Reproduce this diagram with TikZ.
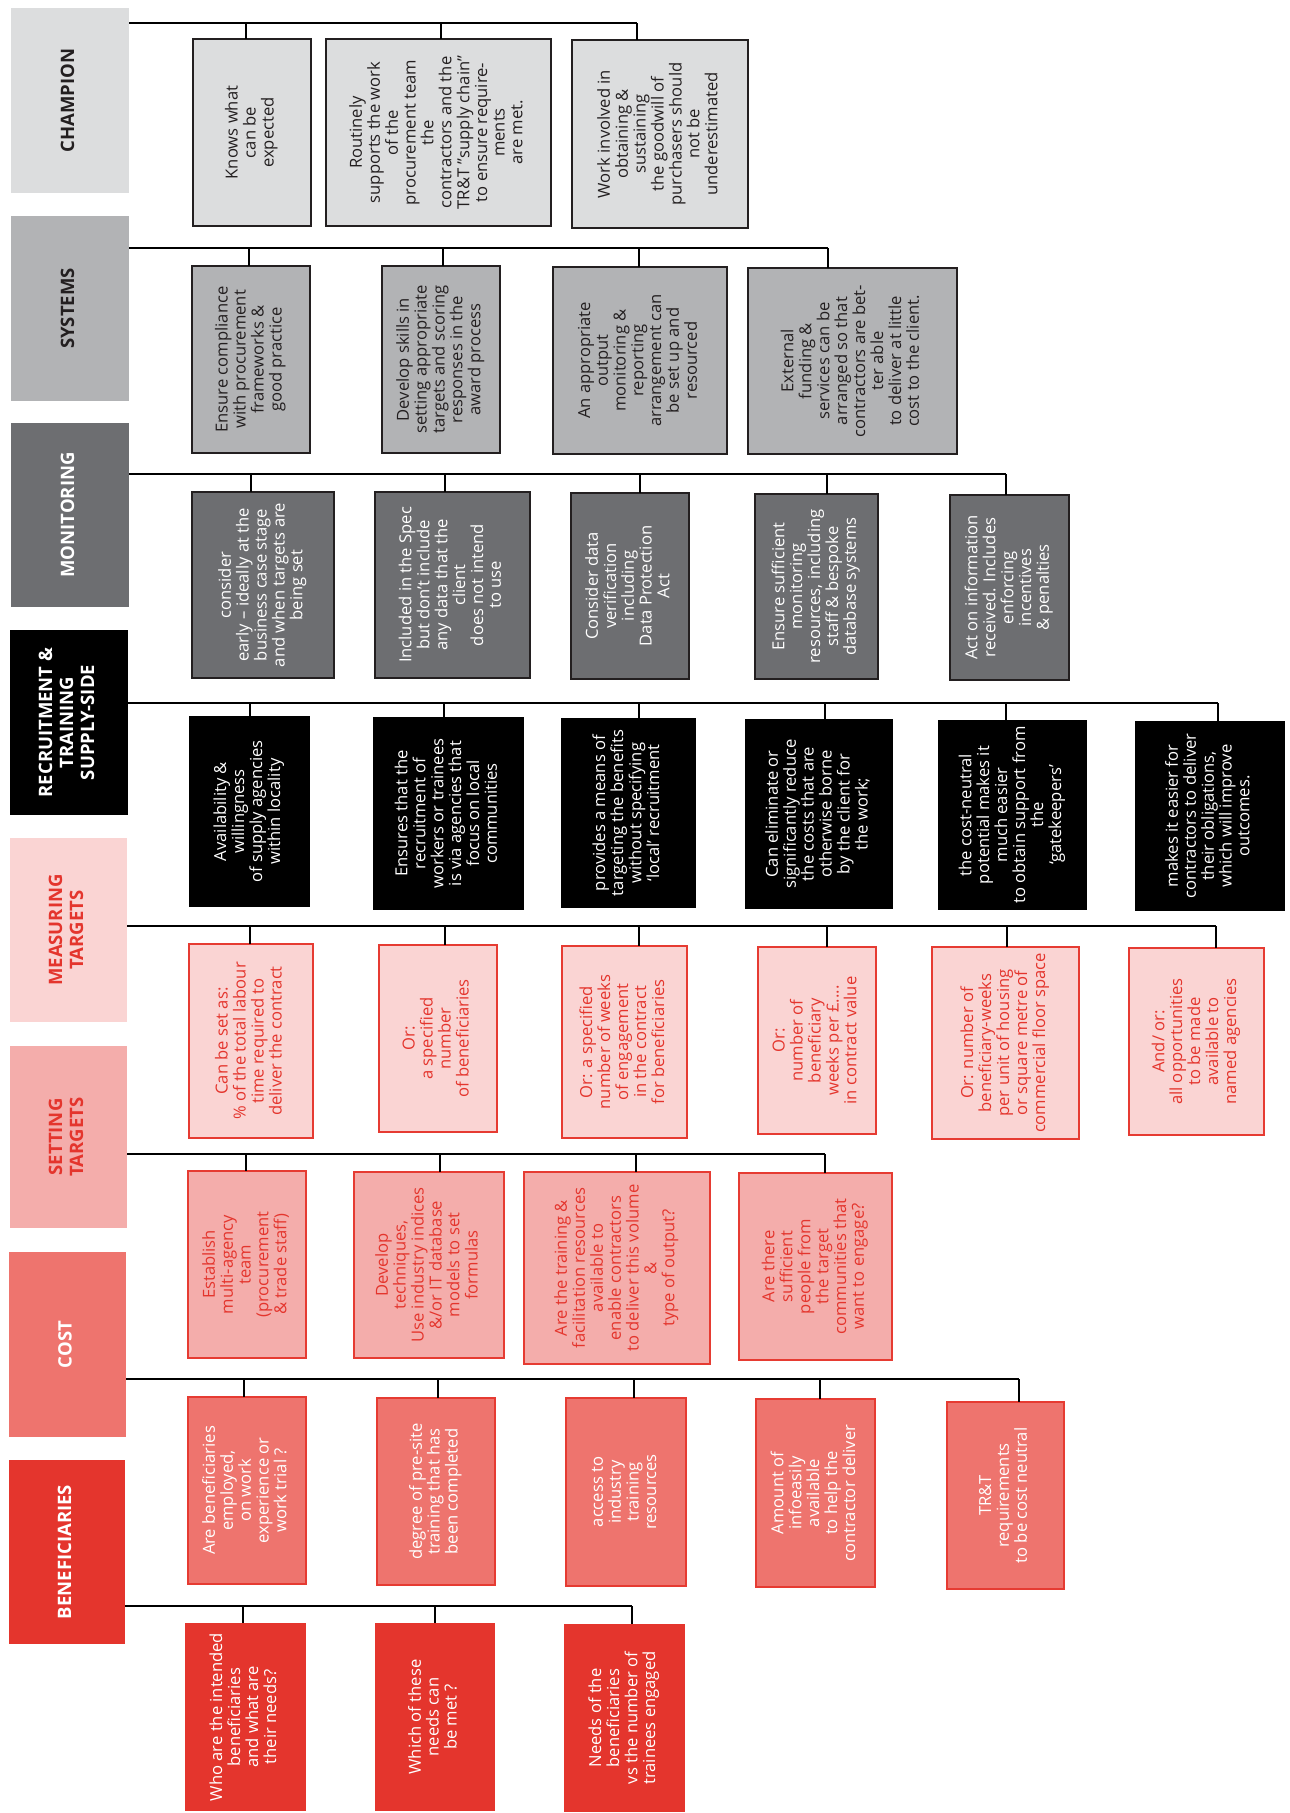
\documentclass[tikz,border=0pt]{standalone}
\usepackage{fontspec}
\setmainfont{Open Sans}
\usepackage{graphicx}
\definecolor{dk}{HTML}{231F20}
\definecolor{gA}{HTML}{DCDDDE}
\definecolor{gB}{HTML}{B2B3B5}
\definecolor{gC}{HTML}{6D6E71}
\definecolor{pA}{HTML}{FAD4D3}
\definecolor{pB}{HTML}{F4ADAB}
\definecolor{pC}{HTML}{EE746E}
\definecolor{rd}{HTML}{E4352D}
\definecolor{rl}{HTML}{E63B32}
\newcommand\bodyfont{\fontsize{16.6}{17.7}\selectfont}
\newcommand\hdrfont{\fontsize{18.5}{21}\selectfont\bfseries}
\newcommand\vtx[1]{\rotatebox{90}{\begin{tabular}{@{}c@{}}#1\end{tabular}}}
\newcommand\bx[7]{\node[#6, minimum width={#3-#2}, minimum height={#5-#4}] (#1) at ({(#2+#3)/2},{(#4+#5)/2}) {\vtx{#7}};}
\begin{document}
\begin{tikzpicture}[x=1pt,y=-1pt,
  base/.style={inner sep=0pt, outer sep=0pt, line width=2pt, font=\bodyfont},
  hdr/.style={inner sep=0pt, outer sep=0pt, font=\hdrfont},
  chbox/.style={base, draw=dk, fill=gA, text=dk},
  sybox/.style={base, draw=dk, fill=gB, text=dk},
  mobox/.style={base, draw=dk, fill=gC, text=white},
  rebox/.style={base, draw=black, fill=black, text=white},
  mebox/.style={base, draw=rl, fill=pA, text=rd},
  sebox/.style={base, draw=rl, fill=pB, text=rd},
  cobox/.style={base, draw=rl, fill=pC, text=white},
  bebox/.style={base, fill=rd, text=white},
  bar/.style={draw=black, line width=2.4pt},
  drop/.style={draw=black, line width=1.8pt}]
\useasboundingbox[fill=white] (0,0) rectangle (1290,1813);

% headers
\bx{h1}{11}{129}{8}{193}{hdr, fill=gA, text=dk}{CHAMPION}
\bx{h2}{11}{129}{216}{401}{hdr, fill=gB, text=dk}{SYSTEMS}
\bx{h3}{11}{129}{423}{607}{hdr, fill=gC, text=white}{MONITORING}
\bx{h4}{10}{128}{630}{815}{hdr, fill=black, text=white}{RECRUITMENT \&\\TRAINING\\SUPPLY-SIDE}
\bx{h5}{10}{127}{838}{1022}{hdr, fill=pA, text=rd}{MEASURING\\TARGETS}
\bx{h6}{10}{127}{1046}{1228}{hdr, fill=pB, text=rd}{SETTING\\TARGETS}
\bx{h7}{9}{126}{1252}{1437}{hdr, fill=pC, text=white}{COST}
\bx{h8}{9}{125}{1460}{1644}{hdr, fill=rd, text=white}{BENEFICIARIES}

% row 1 champion
\bx{b11}{193}{311}{39}{226}{chbox}{Knows what\\can be\\expected}
\bx{b12}{326}{551}{39}{226}{chbox}{Routinely\\supports the work\\of the\\procurement team\\the\\contractors and the\\TR\&T "supply chain"\\to ensure require-\\ments\\are met.}
\bx{b13}{572}{748}{40}{228}{chbox}{Work involved in\\obtaining \&\\sustaining\\the goodwill of\\purchasers should\\not be\\underestimated}
\coordinate (j11) at (246,23);
\coordinate (j12) at (441,23);
\coordinate (j13) at (637,23);
\draw[bar] (h1.east |- j11) -- (j13);
\foreach \b/\j in {b11/j11,b12/j12,b13/j13} \draw[drop] (\j) -- (\j |- \b.north);

% row 2 systems
\bx{b21}{192}{310}{266}{453}{sybox}{Ensure compliance\\with procurement\\frameworks \&\\good practice}
\bx{b22}{382}{500}{266}{453}{sybox}{Develop skills in\\setting appropriate\\targets and scoring\\responses in the\\award process}
\bx{b23}{553}{727}{267}{454}{sybox}{An appropriate\\output\\monitoring \&\\reporting\\arrangement can\\be set up and\\resourced}
\bx{b24}{748}{957}{268}{454}{sybox}{External\\funding \&\\services can be\\arranged so that\\contractors are bet-\\ter able\\to deliver at little\\cost to the client.}
\coordinate (j21) at (249,248);
\coordinate (j22) at (443,248);
\coordinate (j23) at (639,248);
\coordinate (j24) at (828,248);
\draw[bar] (h2.east |- j21) -- (j24);
\foreach \b/\j in {b21/j21,b22/j22,b23/j23,b24/j24} \draw[drop] (\j) -- (\j |- \b.north);

% row 3 monitoring
\bx{b31}{192}{334}{492}{678}{mobox}{consider\\early -- ideally at the\\business case stage\\and when targets are\\being set}
\bx{b32}{375}{530}{492}{678}{mobox}{Included in the Spec\\but don’t include\\any data that the\\client\\does not intend\\to use}
\bx{b33}{571}{689}{493}{679}{mobox}{Consider data\\verification\\including\\Data Protection\\Act}
\bx{b34}{755}{878}{494}{679}{mobox}{Ensure sufficient\\monitoring\\resources, including\\staff \& bespoke\\database systems}
\bx{b35}{950}{1069}{495}{680}{mobox}{Act on information\\received. Includes\\enforcing\\incentives\\\& penalties}
\coordinate (j31) at (251,474);
\coordinate (j32) at (445,474);
\coordinate (j33) at (640,474);
\coordinate (j34) at (827,474);
\coordinate (j35) at (1006,474);
\draw[bar] (h3.east |- j31) -- (j35);
\foreach \b/\j in {b31/j31,b32/j32,b33/j33,b34/j34,b35/j35} \draw[drop] (\j) -- (\j |- \b.north);

% row 4 recruitment
\bx{b41}{190}{309}{717}{906}{rebox}{Availability \&\\willingness\\of supply agencies\\within locality}
\bx{b42}{374}{523}{718}{909}{rebox}{Ensures that the\\recruitment of\\workers or trainees\\is via agencies that\\focus on local\\communities}
\bx{b43}{562}{695}{719}{907}{rebox}{provides a means of\\targeting the benefits\\without specifying\\‘local’ recruitment}
\bx{b44}{746}{892}{720}{908}{rebox}{Can eliminate or\\significantly reduce\\the costs that are\\otherwise borne\\by the client for\\the work;}
\bx{b45}{939}{1086}{721}{909}{rebox}{the cost-neutral\\potential makes it\\much easier\\to obtain support from\\the\\‘gatekeepers’}
\bx{b46}{1136}{1284}{722}{910}{rebox}{makes it easier for\\contractors to deliver\\their obligations,\\which will improve\\outcomes.}
\coordinate (j41) at (250,703);
\coordinate (j42) at (444,703);
\coordinate (j43) at (639,703);
\coordinate (j44) at (825,703);
\coordinate (j45) at (1006,703);
\coordinate (j46) at (1218,703);
\draw[bar] (h4.east |- j41) -- (j46);
\foreach \b/\j in {b41/j41,b42/j42,b43/j43,b44/j44,b45/j45,b46/j46} \draw[drop] (\j) -- (\j |- \b.north);

% row 5 measuring
\bx{b51}{189}{313}{944}{1138}{mebox}{Can be set as:\\\% of the total labour\\time required to\\deliver the contract}
\bx{b52}{379}{497}{945}{1132}{mebox}{Or:\\a specified\\number\\of beneficiaries}
\bx{b53}{562}{687}{946}{1138}{mebox}{Or: a specified\\number of weeks\\of engagement\\in the contract\\for beneficiaries}
\bx{b54}{758}{876}{947}{1134}{mebox}{Or:\\number of\\beneficiary\\weeks per £....\\in contract value}
\bx{b55}{932}{1079}{947}{1139}{mebox}{Or: number of\\beneficiary-weeks\\per unit of housing\\or square metre of\\commercial floor space}
\bx{b56}{1129}{1264}{948}{1135}{mebox}{And/ or:\\all opportunities\\to be made\\available to\\named agencies}
\coordinate (j51) at (250,926);
\coordinate (j52) at (445,926);
\coordinate (j53) at (639,926);
\coordinate (j54) at (827,926);
\coordinate (j55) at (1007,926);
\coordinate (j56) at (1216,926);
\draw[bar] (h5.east |- j51) -- (j56);
\foreach \b/\j in {b51/j51,b52/j52,b53/j53,b54/j54,b55/j55,b56/j56} \draw[drop] (\j) -- (\j |- \b.north);

% row 6 setting
\bx{b61}{188}{306}{1171}{1358}{sebox}{Establish\\multi-agency\\team\\(procurement\\\& trade staff)}
\bx{b62}{354}{504}{1172}{1358}{sebox}{Develop\\techniques,\\Use industry indices\\\&/or IT database\\models to set\\formulas}
\bx{b63}{524}{710}{1172}{1364}{sebox}{Are the training \&\\facilitation resources\\available to\\enable contractors\\to deliver this volume\\\&\\type of output?}
\bx{b64}{739}{892}{1173}{1360}{sebox}{Are there\\sufficient\\people from\\the target\\communities that\\want to engage?}
\coordinate (j61) at (246,1154);
\coordinate (j62) at (440,1154);
\coordinate (j63) at (636,1154);
\coordinate (j64) at (825,1154);
\draw[bar] (h6.east |- j61) -- (j64);
\foreach \b/\j in {b61/j61,b62/j62,b63/j63,b64/j64} \draw[drop] (\j) -- (\j |- \b.north);

% row 7 cost
\bx{b71}{188}{306}{1397}{1584}{cobox}{Are beneficiaries\\employed,\\on work\\experience or\\work trial ?}
\bx{b72}{377}{495}{1398}{1585}{cobox}{degree of pre-site\\training that has\\been completed}
\bx{b73}{566}{686}{1398}{1586}{cobox}{access to\\industry\\training\\resources}
\bx{b74}{756}{875}{1399}{1587}{cobox}{Amount of\\infoeasily\\available\\to help the\\contractor deliver}
\bx{b75}{947}{1064}{1402}{1589}{cobox}{TR\&T\\requirements\\to be cost neutral}
\coordinate (j71) at (244,1379);
\coordinate (j72) at (438,1379);
\coordinate (j73) at (634,1379);
\coordinate (j74) at (820,1379);
\coordinate (j75) at (1019,1379);
\draw[bar] (h7.east |- j71) -- (j75);
\foreach \b/\j in {b71/j71,b72/j72,b73/j73,b74/j74,b75/j75} \draw[drop] (\j) -- (\j |- \b.north);

% row 8 beneficiaries
\bx{b81}{185}{306}{1623}{1811}{bebox}{Who are the intended\\beneficiaries\\and what are\\their needs?}
\bx{b82}{375}{495}{1623}{1811}{bebox}{Which of these\\needs can\\be met ?}
\bx{b83}{564}{685}{1624}{1812}{bebox}{Needs of the\\beneficiaries\\vs the number of\\trainees engaged}
\coordinate (j81) at (243,1606);
\coordinate (j82) at (435,1606);
\coordinate (j83) at (632,1606);
\draw[bar] (h8.east |- j81) -- (j83);
\foreach \b/\j in {b81/j81,b82/j82,b83/j83} \draw[drop] (\j) -- (\j |- \b.north);
\end{tikzpicture}
\end{document}
